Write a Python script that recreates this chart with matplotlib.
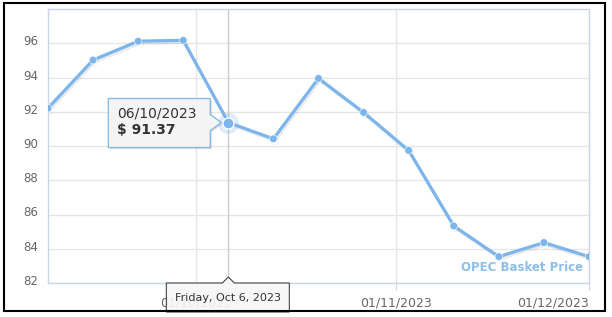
import numpy as np
import matplotlib
matplotlib.use('Agg')
import matplotlib.pyplot as plt
import matplotlib.dates as mdates
import matplotlib.patheffects as pe
import matplotlib.transforms as mtrans
from matplotlib.patches import Polygon, Rectangle
import datetime as dt

# weekly OPEC basket prices
dates = [dt.date(2023, 9, 8) + dt.timedelta(days=7 * i) for i in range(13)]
price = [92.21, 95.02, 96.12, 96.17, 91.37, 90.42, 93.95, 91.96,
         89.74, 85.33, 83.54, 84.36, 83.54]
yticks = [82, 84, 86, 88, 90, 92, 94, 96]
xticks = [dt.date(2023, 10, 1), dt.date(2023, 11, 1), dt.date(2023, 12, 1)]
series_name = 'OPEC Basket Price'
hover = 4

W, H = 612, 317
blue = '#7cb5ec'

fig = plt.figure(figsize=(W / 100, H / 100), dpi=100)
ax = fig.add_axes([48 / W, 1 - 283 / H, (589 - 48) / W, (283 - 9) / H])

ax.set_xlim(dates[0], dates[-1])
ax.set_ylim(82, 98)
ax.set_yticks(yticks)
ax.set_xticks(xticks)
ax.xaxis.set_major_formatter(mdates.DateFormatter('%d/%m/%Y'))
ax.grid(True, color='#e6e6e6', lw=1)
ax.set_axisbelow(True)
for s in ax.spines.values():
    s.set_color('#ccd6eb')
    s.set_linewidth(1)
ax.tick_params(axis='y', length=0, pad=7, labelsize=8.5, labelcolor='#666666')
ax.tick_params(axis='x', length=5, color='#ccd6eb', pad=5, labelsize=9, labelcolor='#666666')
for lab in ax.get_yticklabels():
    lab.set_transform(lab.get_transform() + mtrans.ScaledTranslation(0, 3 / 100, fig.dpi_scale_trans))
# last date label kept inside the plot edge
ax.get_xticklabels()[-1].set_horizontalalignment('right')

# crosshair
ax.axvline(dates[hover], color='#cccccc', lw=1, zorder=1)

ax.plot(dates, price, color=blue, lw=2.3, marker='o', ms=5.5, mec='white', mew=0.4,
        zorder=3, path_effects=[pe.SimpleLineShadow(offset=(1, -1.5), shadow_color='black', alpha=0.08),
                                pe.Normal()])
ax.plot([dates[hover]], [price[hover]], 'o', color=blue, ms=15, alpha=0.25, mew=0, zorder=4)
ax.plot([dates[hover]], [price[hover]], 'o', color=blue, ms=8, mec='white', mew=1, zorder=5)

ax.text(0.99, 0.055, series_name, transform=ax.transAxes, ha='right', va='center',
        color='#8dbde9', fontsize=8.5, fontweight='bold')

# hover point in display pixels (bottom origin)
hx, hy = ax.transData.transform((mdates.date2num(dates[hover]), price[hover]))

def f(px, py):
    return (px / W, py / H)

# point tooltip
L, R, T, B = hx - 120, hx - 18, hy + 24, hy - 25
pts = [(L, T), (R, T), (R, hy + 8), (hx - 7, hy), (R, hy - 8), (R, B), (L, B)]
shadow = Polygon([f(x + 1.5, y - 1.5) for x, y in pts], closed=True, transform=fig.transFigure,
                 facecolor='black', alpha=0.12, edgecolor='none', zorder=8)
box = Polygon([f(x, y) for x, y in pts], closed=True, transform=fig.transFigure,
              facecolor='#f7f7f7', alpha=0.9, edgecolor=blue, lw=1, zorder=9)
fig.patches.extend([shadow, box])
fig.text(*f(L + 9, hy + 9), dates[hover].strftime('%d/%m/%Y'), ha='left', va='center',
         fontsize=10, color='#333333', zorder=10)
fig.text(*f(L + 9, hy - 7), '$ %.2f' % price[hover], ha='left', va='center',
         fontsize=10, fontweight='bold', color='#333333', zorder=10)

# crosshair date label
L2, R2, T2 = hx - 62, hx + 61, H - 283
pts2 = [(L2, 5), (L2, T2), (hx - 6, T2), (hx, T2 + 6), (hx + 6, T2), (R2, T2), (R2, 5)]
box2 = Polygon([f(x, y) for x, y in pts2], closed=True, transform=fig.transFigure,
               facecolor='#f7f7f7', alpha=0.9, edgecolor='#333333', lw=0.8, zorder=9)
fig.patches.append(box2)
fig.text(*f(hx, H - 298), dates[hover].strftime('%A, %b %-d, %Y'), ha='center', va='center',
         fontsize=8, color='#333333', zorder=10)

# outer frame
fig.patches.append(Rectangle(f(4, H - 311), 601 / W, 308 / H, transform=fig.transFigure,
                             fill=False, edgecolor='black', lw=1.5, zorder=20))

fig.savefig('out.png', dpi=100)
